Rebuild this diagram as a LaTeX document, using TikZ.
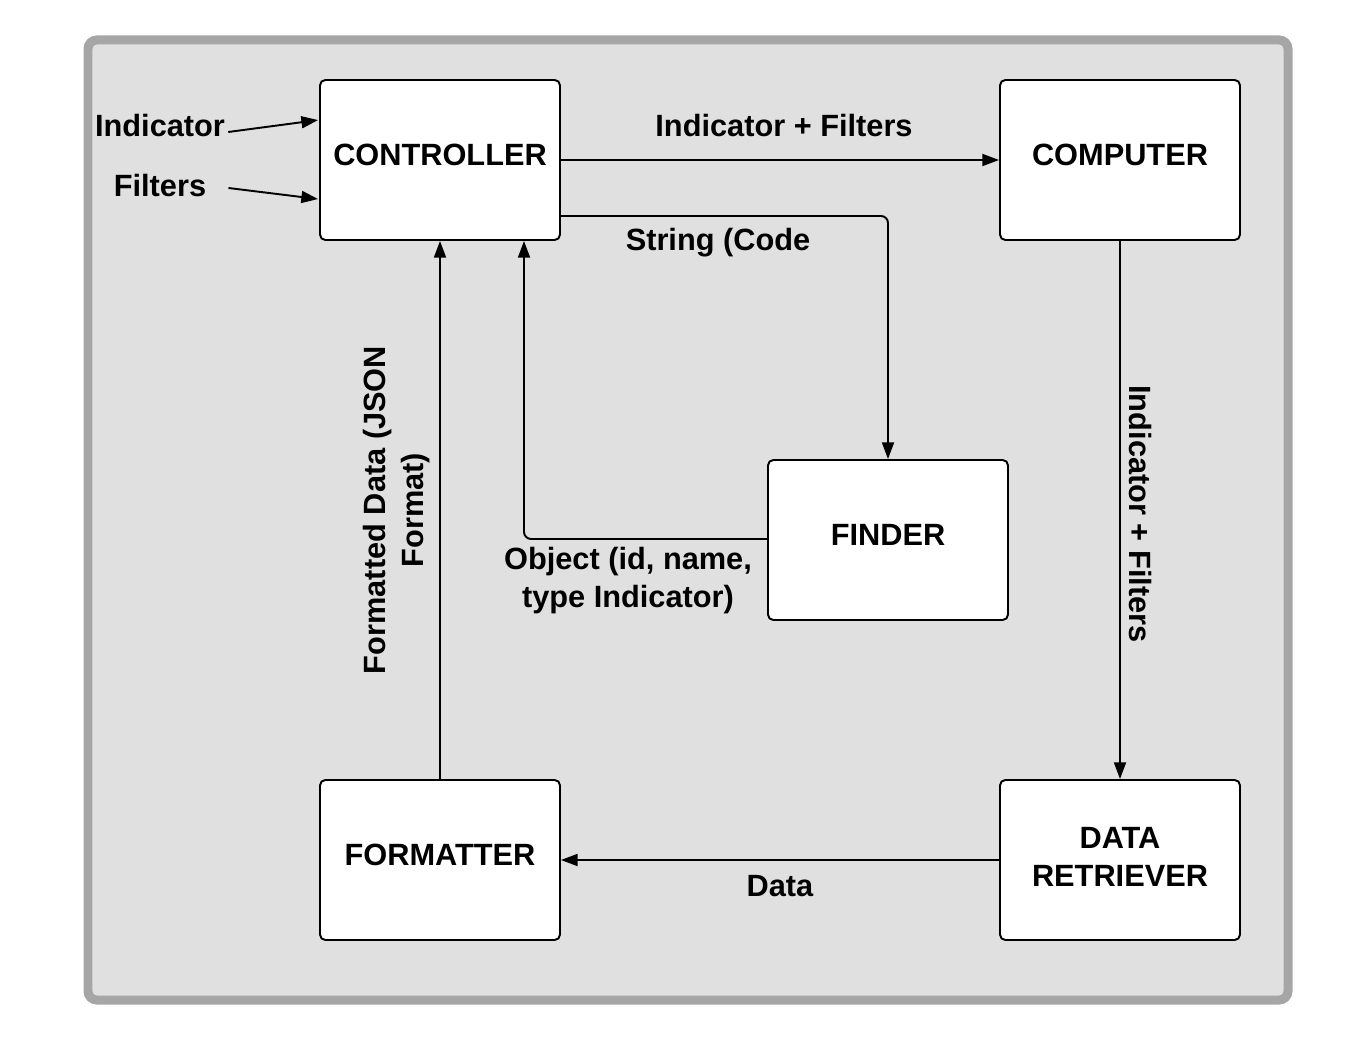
\documentclass[tikz,border=0pt]{standalone}
\usepackage{fontspec}
\setmainfont{Liberation Sans}
\usetikzlibrary{arrows.meta,calc}
\definecolor{panel}{HTML}{E0E0E0}
\definecolor{rim}{HTML}{A6A6A6}
\begin{document}
\begin{tikzpicture}[x=0.02cm,y=-0.02cm,
  font=\bfseries\fontsize{17.5}{21.6}\selectfont,
  box/.style={draw, fill=white, rounded corners=3pt, line width=1.1pt,
    minimum width=4.8cm, minimum height=3.2cm, align=center, inner sep=0pt,
    text depth=5.6pt},
  lbl/.style={inner sep=0pt, align=center},
  conn/.style={-{Triangle[length=9.5pt,width=6.8pt]}, line width=1.1pt}]
\useasboundingbox (0,0) rectangle (1350,1040);
\draw[rim, line width=9*0.569pt, fill=panel, rounded corners=5pt] (88,40) rectangle (1288,1000);

\node[box] (ctrl) at (440,160) {CONTROLLER};
\node[box] (comp) at (1120,160) {COMPUTER};
\node[box] (find) at (888,540) {FINDER};
\node[box] (fmt) at (440,860) {FORMATTER};
\node[box, text depth=3.4pt] (dr) at (1120,860) {DATA\\RETRIEVER};

\node[lbl] (ind) at (160,126) {Indicator};
\node[lbl] (fil) at (160,186) {Filters};

\draw[conn] ($(ind.east)+(3,6)$) -- ($(ctrl.north west)+(-1,41)$);
\draw[conn] ($(fil.east)+(22,2)$) -- ($(ctrl.north west)+(-1,120)$);

\draw[conn] (ctrl.east) -- (comp.west);
\node[lbl] (l1) at (784,126) {Indicator + Filters};
\draw[conn, rounded corners=4pt] ($(ctrl.east)+(0,56)$) -| (find.north);
\node[lbl] (l2) at (718,243) {String (Code};
\draw[conn, rounded corners=4pt] ($(find.west)+(0,-1)$) -| ($(ctrl.south)+(84,0)$);
\node[lbl] (l3) at (628,581) {Object (id, name,\\type Indicator)};
\draw[conn] (comp.south) -- (dr.north);
\node[lbl, rotate=-90] (l4) at (1140,514) {Indicator + Filters};
\draw[conn] (dr.west) -- (fmt.east);
\node[lbl] (l5) at (780,886) {Data};
\draw[conn] (fmt.north) -- (ctrl.south);
\node[lbl, rotate=90] (l6) at (397,510) {Formatted Data (JSON\\Format)};
\end{tikzpicture}
\end{document}
